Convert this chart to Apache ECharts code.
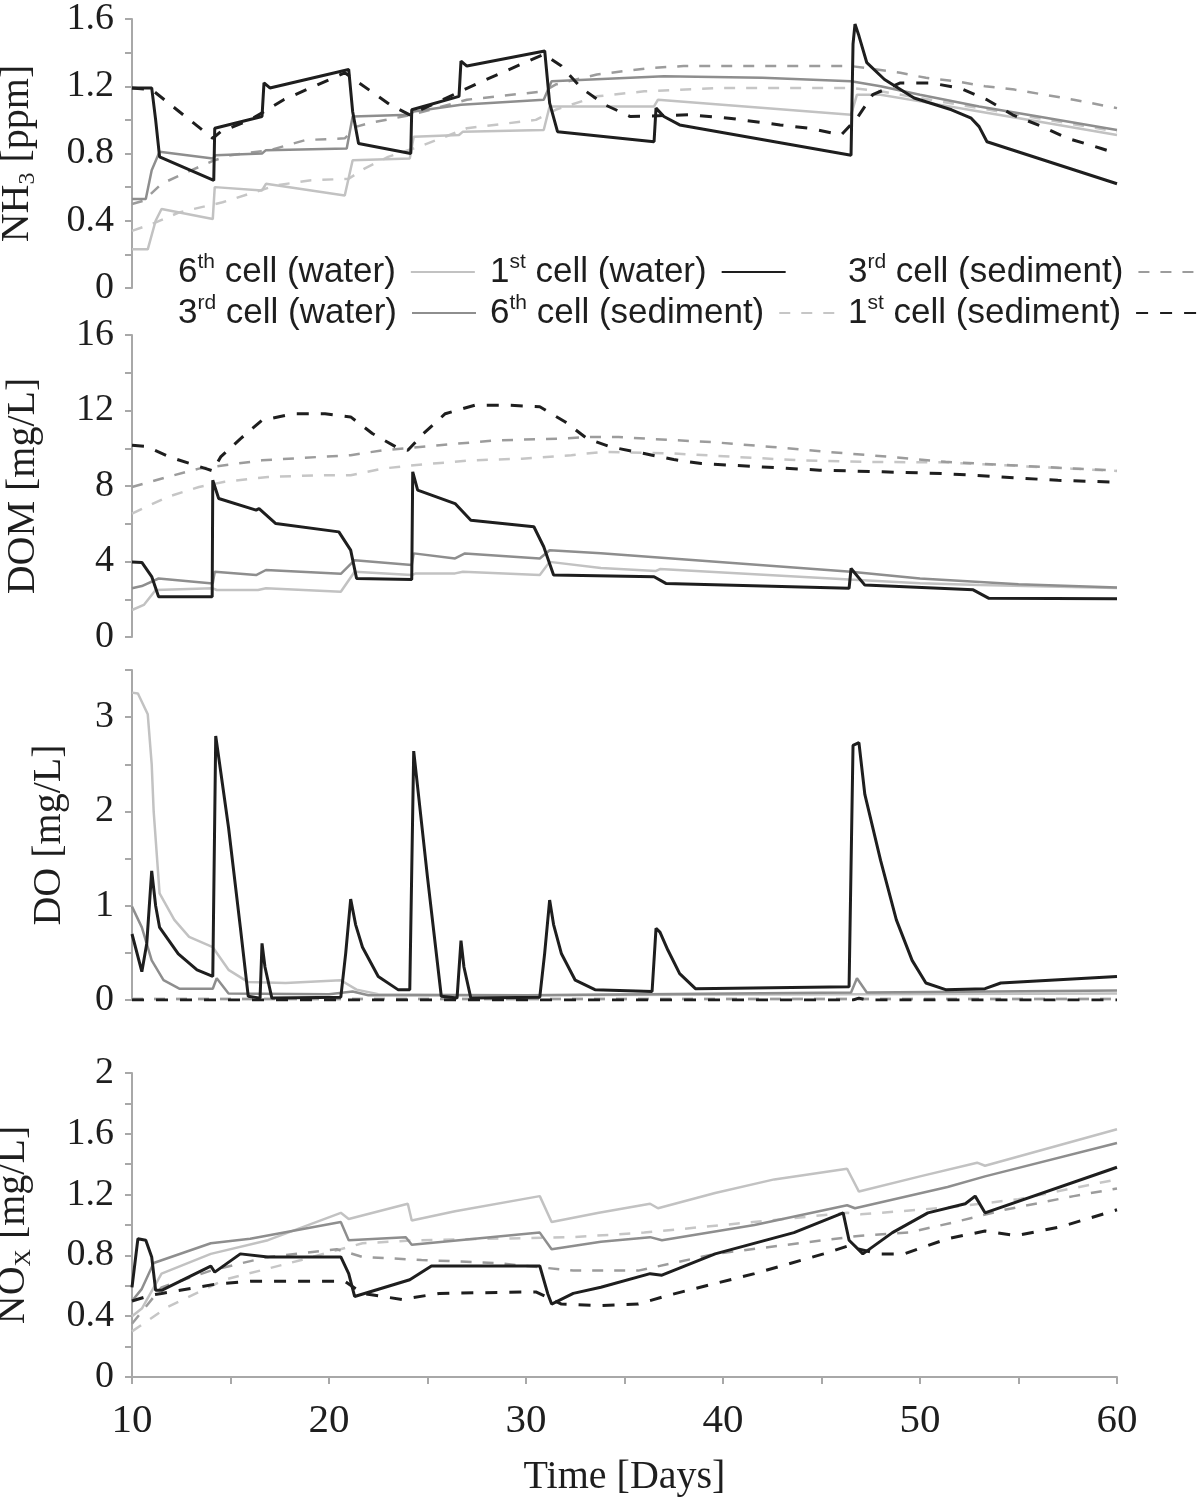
<!DOCTYPE html>
<html><head><meta charset="utf-8">
<script src="https://cdn.jsdelivr.net/npm/echarts/dist/echarts.min.js"></script>
<style>html,body{margin:0;padding:0;background:#fff}#c{width:1203px;height:1500px}</style>
</head><body><div id="c"></div>
<script>
// ---------- categories / labels ----------
const seriesNames = {
  W6: '6th cell (water)', W1: '1st cell (water)', S3: '3rd cell (sediment)',
  W3: '3rd cell (water)', S6: '6th cell (sediment)', S1: '1st cell (sediment)'
};
const xTitle = 'Time [Days]';
const yTitles = ['NH{sub|3} [ppm]', 'DOM [mg/L]', 'DO [mg/L]', 'NO{sub|X} [mg/L]'];

// ---------- NH3 [ppm] ----------
const nh3_w1 = [[10,1.19],[11.0,1.19],[11.2,1.0],[11.4,0.78],[14.15,0.64],[14.2,0.95],[16.6,1.02],[16.7,1.22],[17.0,1.19],[21.0,1.30],[21.2,1.05],[21.5,0.86],[24.15,0.80],[24.2,1.06],[26.6,1.14],[26.7,1.35],[27.0,1.32],[30.95,1.41],[31.2,1.1],[31.6,0.93],[36.5,0.87],[36.6,1.07],[37.0,1.02],[37.8,0.97],[46.5,0.79],[46.6,1.45],[46.7,1.57],[46.9,1.50],[47.3,1.34],[48.2,1.24],[49.7,1.13],[51.6,1.06],[52.6,1.01],[53.0,0.96],[53.4,0.87],[60,0.62]];
const nh3_s1 = [[10,1.19],[11.0,1.18],[14.1,0.89],[14.5,0.93],[16,1.0],[17.7,1.12],[20.8,1.28],[23.1,1.09],[24.1,1.03],[27.8,1.23],[30.9,1.39],[31.8,1.32],[32.8,1.19],[34.0,1.09],[35.3,1.02],[38.3,1.03],[40.3,1.01],[42.9,0.97],[44.4,0.95],[46.0,0.91],[46.8,1.01],[47.6,1.15],[49.0,1.22],[50.5,1.22],[52.0,1.19],[53.4,1.12],[54.7,1.03],[56.2,0.96],[57.5,0.89],[59.2,0.83],[60,0.80]];
const nh3_w3 = [[10,0.53],[10.7,0.53],[11.0,0.7],[11.4,0.81],[14.1,0.77],[14.25,0.79],[16.6,0.80],[16.8,0.82],[20.9,0.83],[21.2,1.02],[24.1,1.03],[24.3,1.05],[26.7,1.09],[30.9,1.12],[31.3,1.23],[37,1.26],[42,1.25],[46.5,1.23],[48,1.2],[50,1.15],[53,1.08],[56,1.02],[60,0.94]];
const nh3_s3 = [[10,0.5],[10.6,0.52],[11.5,0.62],[13,0.70],[14.2,0.76],[15,0.79],[17,0.82],[18.8,0.88],[20.8,0.89],[21.4,0.96],[22,0.98],[24.2,1.03],[27,1.12],[30.9,1.17],[31.5,1.21],[33.6,1.27],[35,1.29],[36.5,1.31],[38,1.32],[46.5,1.32],[49,1.28],[50.3,1.25],[51.8,1.23],[53.3,1.20],[54.8,1.18],[56.3,1.15],[57.8,1.12],[60,1.07]];
const nh3_w6 = [[10,0.23],[10.8,0.23],[11.2,0.40],[11.5,0.47],[14.1,0.41],[14.2,0.60],[16.6,0.58],[16.8,0.62],[20.8,0.55],[21.2,0.76],[24.1,0.77],[24.3,0.90],[26.6,0.91],[26.8,0.93],[30.9,0.94],[31.2,1.08],[36.5,1.08],[36.7,1.12],[46.5,1.03],[46.8,1.15],[48,1.15],[50,1.11],[53,1.05],[56,0.99],[60,0.91]];
const nh3_s6 = [[10,0.34],[11,0.38],[12.4,0.45],[14.6,0.51],[17.3,0.61],[19,0.64],[21,0.65],[21.8,0.71],[23,0.78],[24.8,0.85],[27,0.95],[30.5,1.0],[31.5,1.06],[33.6,1.14],[36,1.17],[40,1.19],[46.5,1.19],[48,1.17],[50,1.13],[53,1.07],[56,1.01],[60,0.93]];

// ---------- DOM [mg/L] ----------
const dom_w1 = [[10,3.98],[10.5,3.95],[11.0,3.2],[11.35,2.13],[14.07,2.13],[14.1,8.3],[14.4,7.34],[16.3,6.72],[16.45,6.8],[17.3,6.01],[20.5,5.57],[21.1,4.6],[21.4,3.1],[24.2,3.05],[24.25,8.75],[24.5,7.78],[26.4,7.07],[26.5,7.1],[27.2,6.19],[30.4,5.84],[30.9,4.78],[31.4,3.28],[36.5,3.19],[37.1,2.84],[46.4,2.58],[46.5,3.63],[47.2,2.75],[52.7,2.5],[53.5,2.05],[60,2.03]];
const dom_w3 = [[10,2.58],[10.5,2.7],[11.35,3.1],[14.1,2.84],[14.2,3.46],[16.3,3.28],[16.8,3.55],[20.6,3.35],[21.3,4.07],[24.2,3.81],[24.3,4.43],[26.4,4.16],[26.9,4.43],[30.7,4.16],[31.2,4.6],[33.8,4.44],[46.5,3.46],[50,3.1],[55,2.8],[60,2.62]];
const dom_w6 = [[10,1.43],[10.6,1.7],[11.2,2.49],[14.1,2.58],[14.3,2.49],[16.4,2.49],[16.8,2.58],[20.6,2.4],[21.3,3.46],[24.2,3.28],[24.4,3.37],[26.4,3.37],[26.8,3.46],[30.7,3.28],[31.2,3.98],[33.8,3.65],[36.6,3.5],[36.8,3.6],[46.4,3.05],[50,2.85],[53,2.75],[60,2.6]];
const dom_s1 = [[10,10.16],[10.7,10.1],[12,9.5],[13.75,8.92],[14.1,8.8],[14.5,9.54],[15.5,10.5],[16.6,11.48],[18.2,11.83],[19.8,11.83],[21.1,11.66],[22.2,10.78],[23.4,10.07],[24.0,9.89],[24.8,10.78],[25.9,11.83],[27.4,12.28],[29.1,12.28],[30.7,12.2],[32,11.39],[33.1,10.51],[34.3,10.07],[36,9.72],[37.5,9.4],[38.9,9.19],[42,9.01],[44.9,8.84],[48.1,8.75],[51.2,8.66],[54.1,8.48],[57,8.3],[60,8.2]];
const dom_s3 = [[10,7.95],[11.8,8.48],[13.4,8.92],[14.7,9.1],[16.6,9.36],[19.5,9.54],[21.1,9.63],[22.7,9.89],[25.6,10.16],[28.5,10.42],[31.7,10.51],[33.3,10.6],[34.7,10.6],[36.2,10.5],[39.4,10.33],[42.5,10.07],[45.4,9.8],[48.5,9.54],[51.3,9.28],[54.6,9.1],[57.7,8.93],[60,8.82]];
const dom_s6 = [[10,6.54],[11.8,7.42],[13.4,7.95],[14.7,8.22],[16.9,8.48],[19.5,8.57],[21.1,8.57],[22.7,8.92],[24.3,9.1],[27.2,9.36],[29.8,9.45],[32.3,9.63],[33.9,9.81],[37.5,9.72],[40.7,9.54],[43.9,9.36],[47.1,9.28],[51.3,9.25],[54.6,9.08],[57.7,8.92],[60,8.8]];

// ---------- DO [mg/L] ----------
const do_w1 = [[10,0.70],[10.5,0.30],[10.75,0.6],[11.0,1.37],[11.2,1.0],[11.4,0.77],[12.35,0.49],[13.3,0.32],[14.1,0.25],[14.25,2.80],[14.9,1.83],[15.5,0.77],[15.9,0.04],[16.5,0.02],[16.6,0.60],[16.75,0.35],[17.1,0.02],[20.6,0.03],[20.85,0.5],[21.1,1.07],[21.35,0.8],[21.7,0.56],[22.5,0.25],[23.5,0.11],[24.1,0.11],[24.3,2.64],[25.0,1.3],[25.7,0.04],[26.5,0.02],[26.7,0.63],[26.85,0.35],[27.2,0.02],[30.7,0.03],[30.95,0.5],[31.2,1.06],[31.4,0.8],[31.8,0.49],[32.5,0.21],[33.5,0.11],[36.4,0.09],[36.6,0.76],[36.8,0.72],[37.2,0.53],[37.8,0.28],[38.6,0.12],[46.4,0.14],[46.6,2.70],[46.9,2.73],[47.2,2.18],[48.0,1.48],[48.8,0.85],[49.6,0.42],[50.3,0.18],[51.3,0.11],[53.3,0.12],[54.1,0.18],[60,0.25]];
const do_w3 = [[10,0.99],[10.5,0.77],[11.0,0.42],[11.6,0.21],[12.4,0.12],[14.1,0.12],[14.3,0.23],[14.9,0.07],[20,0.06],[21.2,0.09],[22,0.05],[30,0.05],[46.5,0.08],[46.8,0.23],[47.3,0.08],[60,0.1]];
const do_w6 = [[10,3.26],[10.3,3.25],[10.8,3.03],[11.0,2.5],[11.1,2.0],[11.4,1.13],[12.15,0.85],[12.9,0.67],[14.1,0.56],[14.9,0.32],[15.9,0.19],[17.8,0.18],[20.6,0.21],[21.4,0.11],[22.5,0.06],[30,0.05],[46.5,0.06],[60,0.07]];
const do_s1 = [[10,0.0],[46.6,0.0],[46.9,0.02],[47.3,0.0],[60,0.0]];
const do_s3 = [[10,0.01],[60,0.01]];
const do_s6 = [[10,0.01],[60,0.01]];

// ---------- NOx [mg/L] ----------
const nox_w1 = [[10,0.59],[10.3,0.91],[10.7,0.90],[11.0,0.79],[11.2,0.57],[11.5,0.57],[14.0,0.73],[14.2,0.69],[15.5,0.81],[16.9,0.79],[20.6,0.79],[21.0,0.68],[21.3,0.53],[24.1,0.64],[25.2,0.73],[30.7,0.73],[31.1,0.55],[31.3,0.48],[32.4,0.55],[33.8,0.59],[36.3,0.68],[36.9,0.67],[39.6,0.81],[43.6,0.95],[46.1,1.08],[46.4,0.90],[47.1,0.81],[48.6,0.95],[50.4,1.08],[52.3,1.14],[52.8,1.19],[53.3,1.08],[60,1.38]];
const nox_w3 = [[10,0.50],[10.5,0.58],[11.1,0.75],[14,0.88],[16,0.91],[20.6,1.02],[21.0,0.90],[23.9,0.92],[24.2,0.87],[26.6,0.90],[30.7,0.95],[31.3,0.84],[33.8,0.89],[36.3,0.92],[36.9,0.90],[41.6,1.0],[46.3,1.13],[46.7,1.11],[51.4,1.25],[53.3,1.32],[60,1.54]];
const nox_w6 = [[10,0.40],[10.5,0.45],[11.5,0.68],[14.0,0.81],[16.9,0.90],[20.6,1.08],[21.0,1.04],[24.0,1.14],[24.2,1.03],[26.4,1.09],[30.7,1.19],[31.3,1.02],[33.7,1.08],[36.3,1.14],[36.7,1.11],[39.6,1.21],[42.6,1.30],[46.3,1.37],[46.9,1.22],[50,1.32],[52.9,1.41],[53.3,1.39],[60,1.63]];
const nox_s1 = [[10,0.50],[11,0.54],[11.5,0.55],[14.2,0.61],[16,0.63],[20.8,0.63],[21.7,0.55],[23.7,0.51],[25.6,0.55],[30.5,0.56],[31.8,0.48],[33.8,0.47],[35.7,0.48],[37.3,0.54],[41.6,0.68],[45.1,0.81],[46.3,0.86],[47.9,0.81],[49.2,0.81],[51.4,0.91],[53.3,0.96],[54.9,0.93],[57.2,0.99],[60,1.10]];
const nox_s3 = [[10,0.35],[11.5,0.59],[14,0.70],[16.9,0.79],[20.4,0.84],[21.7,0.79],[24.7,0.77],[28.5,0.75],[32.4,0.70],[35.7,0.70],[39.6,0.81],[45.1,0.90],[47,0.93],[49.4,0.95],[51.8,1.02],[54.3,1.10],[57.8,1.19],[60,1.24]];
const nox_s6 = [[10,0.30],[11.8,0.46],[14.7,0.64],[18.6,0.77],[21.7,0.88],[24.5,0.90],[32.4,0.92],[36,0.95],[40,1.0],[46.3,1.08],[47,1.07],[51.8,1.12],[55,1.17],[60,1.30]];

// ---------- tick settings ----------
const xTicks = {min: 10, max: 60, interval: 5, labelEvery: 10};
const yTicks = [
  {min: 0, max: 1.6, interval: 0.2},
  {min: 0, max: 16, interval: 2},
  {min: 0, max: 3.5, interval: 0.5},
  {min: 0, max: 2, interval: 0.2}
];

// ---------- build ----------
const panels = [
  {W1: nh3_w1, W3: nh3_w3, W6: nh3_w6, S1: nh3_s1, S3: nh3_s3, S6: nh3_s6},
  {W1: dom_w1, W3: dom_w3, W6: dom_w6, S1: dom_s1, S3: dom_s3, S6: dom_s6},
  {W1: do_w1, W3: do_w3, W6: do_w6, S1: do_s1, S3: do_s3, S6: do_s6},
  {W1: nox_w1, W3: nox_w3, W6: nox_w6, S1: nox_s1, S3: nox_s3, S6: nox_s6}
];
const styles = {
  S6: {color: '#c6c6c6', width: 2.5, type: [11, 11]},
  W6: {color: '#c2c2c2', width: 2.5, type: 'solid'},
  S3: {color: '#9c9c9c', width: 2.5, type: [11, 11]},
  W3: {color: '#8e8e8e', width: 2.5, type: 'solid'},
  S1: {color: '#1e1e1e', width: 3, type: [12, 12]},
  W1: {color: '#1e1e1e', width: 3, type: 'solid'}
};
const drawOrder = ['S6', 'W6', 'S3', 'W3', 'S1', 'W1'];

const gridBoxes = [
  {top: 19, height: 269},
  {top: 335, height: 302},
  {top: 670, height: 330},
  {top: 1073, height: 304}
];
const nameGaps = [92, 86, 60, 96];
const SERIF = '"Liberation Serif", "Times New Roman", serif';
const SANS = '"Liberation Sans", Arial, sans-serif';
const axisGrey = '#a8a8a8';
const ink = '#1e1e1e';

const grids = gridBoxes.map(b => ({left: 132, width: 985, top: b.top, height: b.height, outerBoundsMode: 'none', containLabel: false}));

const labelFmt = [
  v => { const k = Math.round(v * 10); return k % 4 === 0 ? String(+(k / 10).toFixed(1)) : ''; },
  v => (Math.round(v) % 4 === 0 ? String(Math.round(v)) : ''),
  v => (Math.abs(v - Math.round(v)) < 1e-6 ? String(Math.round(v)) : ''),
  v => { const k = Math.round(v * 10); return k % 4 === 0 ? String(+(k / 10).toFixed(1)) : ''; }
];

const xAxes = gridBoxes.map((b, i) => {
  const last = i === 3;
  return {
    type: 'value', gridIndex: i, min: xTicks.min, max: xTicks.max, interval: xTicks.interval,
    axisLine: {show: last, onZero: false, lineStyle: {color: axisGrey, width: 2}},
    axisTick: {show: last, length: 7, inside: false, lineStyle: {color: axisGrey, width: 2}},
    axisLabel: {show: last, margin: 24, fontFamily: SERIF, fontSize: 41, color: ink,
      formatter: v => (Math.round(v) % xTicks.labelEvery === 0 ? String(Math.round(v)) : '')},
    splitLine: {show: false},
    name: last ? xTitle : '', nameLocation: 'middle', nameGap: 80,
    nameTextStyle: {fontFamily: SERIF, fontSize: 40, color: ink}
  };
});

const yAxes = gridBoxes.map((b, i) => ({
  type: 'value', gridIndex: i, min: yTicks[i].min, max: yTicks[i].max, interval: yTicks[i].interval,
  axisLine: {show: true, lineStyle: {color: axisGrey, width: 2}},
  axisTick: {show: true, length: 7, inside: false, lineStyle: {color: axisGrey, width: 2}},
  axisLabel: {margin: 18, fontFamily: SERIF, fontSize: 38, color: ink, formatter: labelFmt[i], showMinLabel: true, showMaxLabel: true},
  splitLine: {show: false},
  name: yTitles[i], nameLocation: 'middle', nameRotate: 90, nameGap: nameGaps[i],
  nameTextStyle: {fontFamily: SERIF, fontSize: 40, color: ink, lineHeight: 46,
    rich: {sub: {fontFamily: SERIF, fontSize: 24, lineHeight: 22, verticalAlign: 'bottom', color: ink}}}
}));

const series = [];
panels.forEach((p, i) => {
  drawOrder.forEach(k => {
    const st = styles[k];
    series.push({
      name: seriesNames[k], type: 'line', xAxisIndex: i, yAxisIndex: i, data: p[k],
      symbol: 'none', showSymbol: false, smooth: false, animation: false, silent: true,
      lineStyle: {color: st.color, width: st.width, type: st.type, cap: 'butt'},
      itemStyle: {color: st.color}
    });
  });
});

const supFmt = name => name.replace(/^(\d)(st|nd|rd|th)/, '$1{sup|$2}');
const legendSlots = [
  {k: 'W6', left: 178, top: 252}, {k: 'W1', left: 490, top: 252}, {k: 'S3', left: 848, top: 252},
  {k: 'W3', left: 178, top: 293}, {k: 'S6', left: 490, top: 293}, {k: 'S1', left: 848, top: 293}
];
const legends = legendSlots.map(s => ({
  data: [seriesNames[s.k]], left: s.left, top: s.top, orient: 'horizontal', align: 'right',
  itemWidth: 64, itemHeight: 14, itemGap: 0, padding: 0, selectedMode: false, z: 5,
  itemStyle: {opacity: 0},
  formatter: supFmt,
  textStyle: {fontFamily: SANS, fontSize: 35, color: ink, lineHeight: 40, padding: [0, 10, 0, 0],
    rich: {sup: {fontFamily: SANS, fontSize: 21, lineHeight: 24, verticalAlign: 'top', color: ink}}}
}));

const chart = echarts.init(document.getElementById('c'), null, {renderer: 'canvas'});
chart.setOption({
  animation: false,
  backgroundColor: '#ffffff',
  grid: grids,
  xAxis: xAxes,
  yAxis: yAxes,
  legend: legends,
  graphic: [{type: 'rect', left: 150, top: 247, z: 3, silent: true, shape: {width: 1053, height: 80}, style: {fill: '#ffffff'}}],
  series: series
});
</script></body></html>
